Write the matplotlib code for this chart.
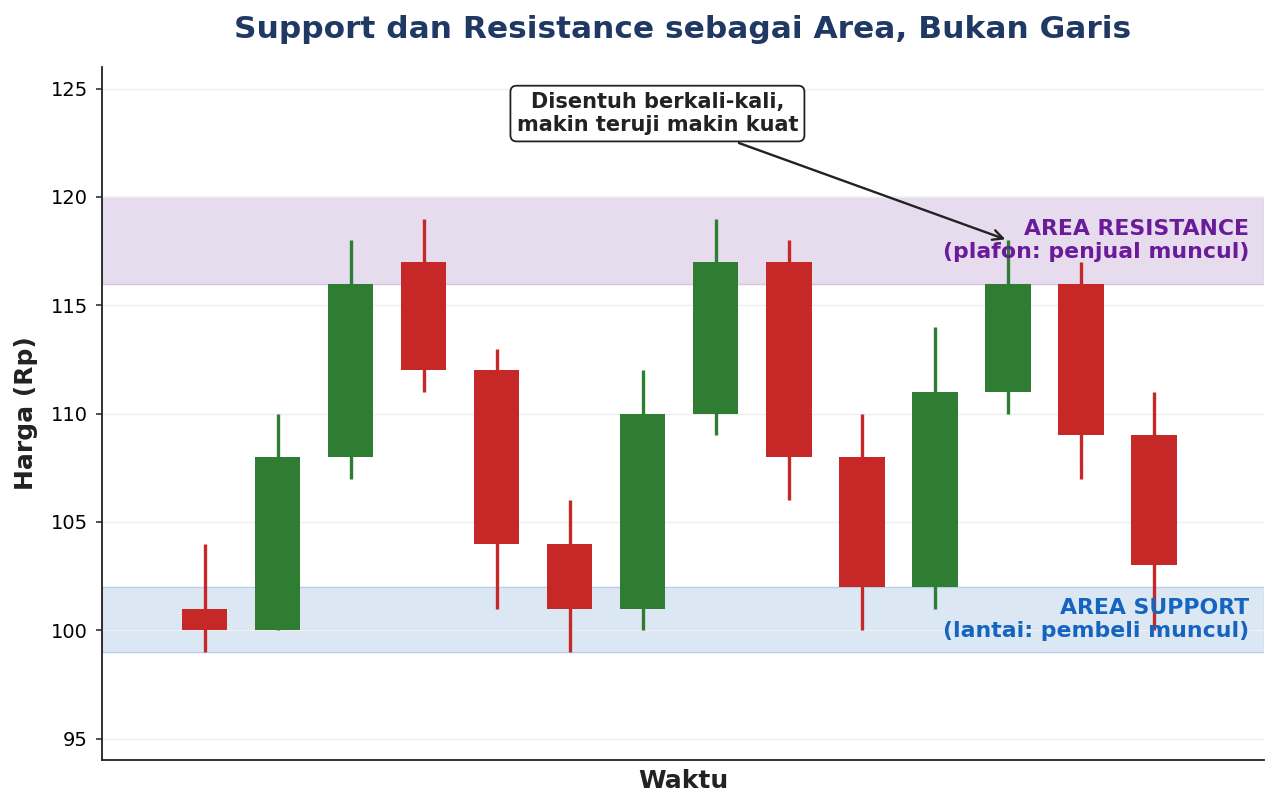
import numpy as np
import matplotlib.pyplot as plt

# data candle
opens  = [101, 100, 108, 117, 112, 104, 101, 110, 117, 108, 102, 111, 116, 109]
closes = [100, 108, 116, 112, 104, 101, 110, 117, 108, 102, 111, 116, 109, 103]
highs  = [104, 110, 118, 119, 113, 106, 112, 119, 118, 110, 114, 118, 117, 111]
lows   = [99, 100, 107, 111, 101, 99, 100, 109, 106, 100, 101, 110, 107, 100]

support_zone = [99, 102]
resist_zone = [116, 120]
yticks = [95, 100, 105, 110, 115, 120, 125]

green = '#2e7d32'
red = '#c62828'

fig, ax = plt.subplots(figsize=(12.79, 8.07), dpi=100)

ax.axhspan(support_zone[0], support_zone[1], facecolor='#dce7f4', edgecolor='#b9cfe8', lw=1, zorder=0)
ax.axhspan(resist_zone[0], resist_zone[1], facecolor='#e7dcee', edgecolor='#d6c3e0', lw=1, zorder=0)

x = np.arange(len(opens))
for i in x:
    c = green if closes[i] >= opens[i] else red
    ax.vlines(i, lows[i], highs[i], color=c, lw=2.4, zorder=2)
    lo = min(opens[i], closes[i])
    ax.bar(i, abs(closes[i] - opens[i]), bottom=lo, width=0.62, color=c, zorder=3)

ax.text(14.3, 118, 'AREA RESISTANCE\n(plafon: penjual muncul)', ha='right', va='center',
        color='#6a1b9a', fontsize=15.8, fontweight='bold', zorder=5)
ax.text(14.3, 100.5, 'AREA SUPPORT\n(lantai: pembeli muncul)', ha='right', va='center',
        color='#1565c0', fontsize=15.8, fontweight='bold', zorder=5)

ax.annotate('Disentuh berkali-kali,\nmakin teruji makin kuat', xy=(11, 118), xytext=(6.2, 123.85),
            ha='center', va='center', fontsize=15, fontweight='bold', color='#222222',
            bbox=dict(boxstyle='round,pad=0.3', fc='white', ec='#222222', lw=1.3),
            arrowprops=dict(arrowstyle='->', color='#222222', lw=1.7, mutation_scale=18),
            zorder=6)

ax.set_xlim(-1.4, 14.5)
ax.set_ylim(94, 126)
ax.set_yticks(yticks)
ax.set_xticks([])
ax.tick_params(axis='y', labelsize=14, length=4.5, width=1.1, pad=6, color='#222222')
ax.grid(axis='y', color='#eeeeee', lw=1, zorder=0)
ax.set_axisbelow(True)
for s in ['top', 'right']:
    ax.spines[s].set_visible(False)
for s in ['left', 'bottom']:
    ax.spines[s].set_linewidth(1.3)
    ax.spines[s].set_color('#222222')

ax.set_xlabel('Waktu', fontsize=18, fontweight='bold', color='#222222', labelpad=6)
ax.set_ylabel('Harga (Rp)', fontsize=18, fontweight='bold', color='#222222', labelpad=9)
ax.set_title('Support dan Resistance sebagai Area, Bukan Garis', fontsize=22.5,
             fontweight='bold', color='#1f3864', pad=21)

plt.subplots_adjust(left=0.08, right=0.988, top=0.917, bottom=0.058)
plt.savefig('out.png', dpi=100)
